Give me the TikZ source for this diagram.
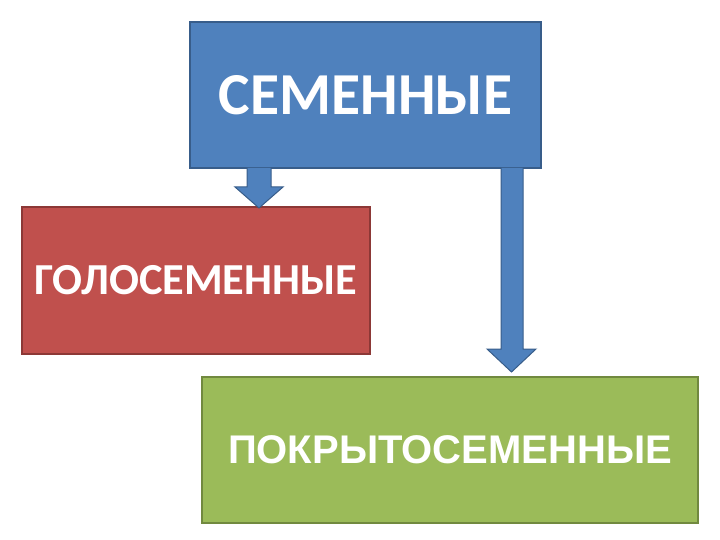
\documentclass[tikz,border=0pt]{standalone}
\usepackage{fontspec}
\setmainfont{Carlito}
\newfontfamily\arialf{Liberation Sans}
\definecolor{bfill}{HTML}{4F81BD}
\definecolor{bline}{HTML}{385D8A}
\definecolor{rfill}{HTML}{C0504D}
\definecolor{rline}{HTML}{8C3836}
\definecolor{gfill}{HTML}{9BBB59}
\definecolor{gline}{HTML}{71893F}
\tikzset{
  boxstyle/.style={draw=#1, line width=1.2pt, inner sep=0pt, outer sep=0pt, text=white, font=\bfseries},
  blockarrow/.style={fill=bfill, draw=bline, line width=1pt, line join=miter}
}
\begin{document}
\begin{tikzpicture}[x=1pt,y=-1pt]
\useasboundingbox (0,0) rectangle (720,540);
\node[boxstyle=bline, fill=bfill, minimum width=351pt, minimum height=146pt, anchor=north west] (top) at (190,22) {\fontsize{59.5}{64}\selectfont СЕМЕННЫЕ};
\node[boxstyle=rline, fill=rfill, minimum width=348pt, minimum height=147pt, anchor=north west] (left) at (22,207) {\fontsize{44.3}{48}\selectfont ГОЛОСЕМЕННЫЕ};
\node[boxstyle=gline, fill=gfill, minimum width=496pt, minimum height=146pt, anchor=north west] (right) at (202,377) {\arialf\bfseries\fontsize{40}{44}\selectfont ПОКРЫТОСЕМЕННЫЕ};
% arrow 1: top -> left
\draw[blockarrow] (247,168) -- (247,187) -- (235,187) -- (259,208) -- (283,187) -- (271,187) -- (271,168);
% arrow 2: top -> right
\draw[blockarrow] (501,168) -- (501,349) -- (487,349) -- (511.5,372) -- (536,349) -- (523,349) -- (523,168);
\end{tikzpicture}
\end{document}
